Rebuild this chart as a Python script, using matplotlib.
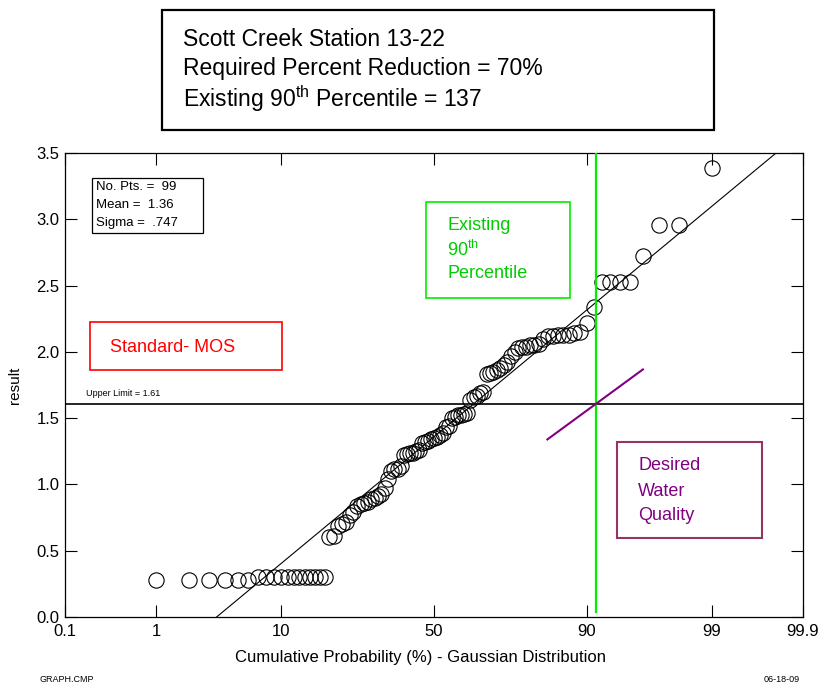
import matplotlib
matplotlib.use("Agg")
import matplotlib.pyplot as plt
import numpy as np
from matplotlib import font_manager
from matplotlib.patches import Rectangle
from statistics import NormalDist

plt.rcParams['font.family'] = ['Liberation Sans', 'DejaVu Sans']
plt.rcParams['mathtext.fontset'] = 'custom'
plt.rcParams['mathtext.rm'] = 'Liberation Sans'

installed = {f.name for f in font_manager.fontManager.ttflist}
if 'Liberation Sans Narrow' in installed:
    axis_font = dict(family='Liberation Sans Narrow', size=14)
else:
    axis_font = dict(family='Liberation Sans', size=12)

# sorted sample results (99 points)
results = [
    0.28, 0.28, 0.28, 0.28, 0.28, 0.28,
    0.30, 0.30, 0.30, 0.30, 0.30, 0.30, 0.30, 0.30, 0.30, 0.30, 0.30, 0.30,
    0.60, 0.61, 0.69, 0.70, 0.72, 0.77, 0.79,
    0.84, 0.85, 0.86, 0.87, 0.89, 0.90, 0.91, 0.93,
    0.97, 1.04, 1.10, 1.12, 1.12, 1.14,
    1.22, 1.23, 1.24, 1.24, 1.25, 1.26,
    1.31, 1.32, 1.33, 1.34, 1.35, 1.36, 1.37, 1.39,
    1.43, 1.44, 1.50, 1.51, 1.52, 1.52, 1.53, 1.54,
    1.64, 1.66, 1.67, 1.69, 1.70, 1.83, 1.84, 1.85, 1.86, 1.88, 1.90, 1.92,
    1.97, 2.00, 2.03, 2.04, 2.04, 2.05, 2.05, 2.06, 2.10,
    2.12, 2.12, 2.13, 2.13, 2.13, 2.14, 2.15,
    2.22, 2.34, 2.53, 2.53, 2.53, 2.53, 2.72, 2.96, 2.96, 3.39,
]
n_pts = len(results)
mean = 1.36
sigma = 0.747
upper_limit = 1.61
pct90_line = 91.3          # existing 90th percentile marker
desired_slope = 0.66       # slope of desired-water-quality line (per std. normal unit)

prob_ticks = [0.1, 1, 10, 50, 90, 99, 99.9]
prob_labels = ['0.1', '1', '10', '50', '90', '99', '99.9']
y_ticks = [0.0, 0.5, 1.0, 1.5, 2.0, 2.5, 3.0, 3.5]

nd = NormalDist()


def _ppf1(p):
    if np.isnan(p):
        return np.nan
    return nd.inv_cdf(min(max(p / 100.0, 1e-9), 1 - 1e-9))


def _cdf1(z):
    if np.isnan(z):
        return np.nan
    return 100.0 * nd.cdf(z)


_ppf = np.vectorize(_ppf1, otypes=[float])
_cdf = np.vectorize(_cdf1, otypes=[float])


def fwd(p):
    return _ppf(np.asarray(p, dtype=float))


def inv(z):
    return _cdf(np.asarray(z, dtype=float))


W, H = 821, 688
fig = plt.figure(figsize=(W / 100, H / 100), dpi=100)
ax = fig.add_axes([65 / W, 1 - 617 / H, 738 / W, 464 / H])
ax.set_xscale('function', functions=(fwd, inv))
ax.set_xlim(0.1, 99.9)
ax.set_ylim(0, 3.5)

# plotting positions i/(n+1)
ranks = np.arange(1, n_pts + 1)
plot_pos = 100.0 * ranks / (n_pts + 1)
ax.plot(plot_pos, results, 'o', mfc='none', mec='black', ms=11, mew=0.8, zorder=3)

# fitted normal line
z_line = np.linspace(-3.2, 3.2, 200)
ax.plot(inv(z_line), mean + sigma * z_line, color='black', lw=0.8, zorder=2)

# upper limit
ax.axhline(upper_limit, color='black', lw=1.2, zorder=2)
ax.text(0.18, upper_limit + 0.04, 'Upper Limit = 1.61', fontsize=6.5,
        ha='left', va='bottom')

# existing 90th percentile
ax.plot([pct90_line, pct90_line], [0.04, 3.5], color='#00ee00', lw=1.6, zorder=4)

# desired water quality line through the intersection
z0 = fwd(pct90_line)
dz = np.array([-0.41, 0.39])
ax.plot(inv(z0 + dz), upper_limit + desired_slope * dz, color='#800080', lw=1.5, zorder=4)

ax.set_xticks(prob_ticks)
ax.set_xticklabels(prob_labels, fontfamily=axis_font['family'])
ax.xaxis.set_minor_locator(matplotlib.ticker.NullLocator())
ax.set_yticks(y_ticks)
ax.set_yticklabels(['%.1f' % v for v in y_ticks], fontfamily=axis_font['family'])
ax.tick_params(direction='in', length=8.5, width=0.8, labelsize=axis_font['size'],
               top=True, right=True)
ax.tick_params(axis='x', pad=5)
ax.tick_params(axis='y', pad=4)
for s in ax.spines.values():
    s.set_linewidth(0.9)

ax.set_xlabel('Cumulative Probability (%) - Gaussian Distribution',
              fontfamily=axis_font['family'], fontsize=axis_font['size'])
ax.xaxis.set_label_coords(0.482, -0.072)
ax.set_ylabel('result', fontfamily=axis_font['family'], fontsize=axis_font['size'] - 1,
              labelpad=10)


def px_box(x0, y0, x1, y1, color, lw):
    fig.add_artist(Rectangle((x0 / W, 1 - y1 / H), (x1 - x0) / W, (y1 - y0) / H,
                             transform=fig.transFigure, fill=False, ec=color, lw=lw,
                             zorder=5))


def px_text(x, y, s, **kw):
    fig.text(x / W, 1 - y / H, s, va='center', ha='left', **kw)


# title box
px_box(162, 10, 714, 130, 'black', 1.6)
px_text(183, 39, 'Scott Creek Station 13-22', fontsize=16.5)
px_text(183, 69, 'Required Percent Reduction = 70%', fontsize=16.5)
px_text(183, 99, 'Existing 90$^{\\mathrm{th}}$ Percentile = 137', fontsize=16.5)

# statistics box
px_box(92, 178, 203, 233, 'black', 0.9)
px_text(96, 187, 'No. Pts. =  99', fontsize=9.5)
px_text(96, 205, 'Mean =  1.36', fontsize=9.5)
px_text(96, 223, 'Sigma =  .747', fontsize=9.5)

# existing 90th percentile label
px_box(426, 202, 570, 298, '#00ee00', 1.2)
px_text(447, 226, 'Existing', fontsize=13, color='#00cc00')
px_text(447, 250, '90$^{\\mathrm{th}}$', fontsize=13, color='#00cc00')
px_text(447, 274, 'Percentile', fontsize=13, color='#00cc00')

# standard label
px_box(90, 322, 282, 370, '#ff0000', 1.2)
px_text(110, 347, 'Standard- MOS', fontsize=13, color='#ff0000')

# desired water quality label
px_box(617, 442, 762, 538, '#993366', 1.5)
px_text(638, 466, 'Desired', fontsize=13, color='#800080')
px_text(638, 491, 'Water', fontsize=13, color='#800080')
px_text(638, 515, 'Quality', fontsize=13, color='#800080')

# footer
px_text(40, 679, 'GRAPH.CMP', fontsize=6.5)
fig.text(800 / W, 1 - 679 / H, '06-18-09', fontsize=6.5, ha='right', va='center')

fig.savefig('out.png', dpi=100)
